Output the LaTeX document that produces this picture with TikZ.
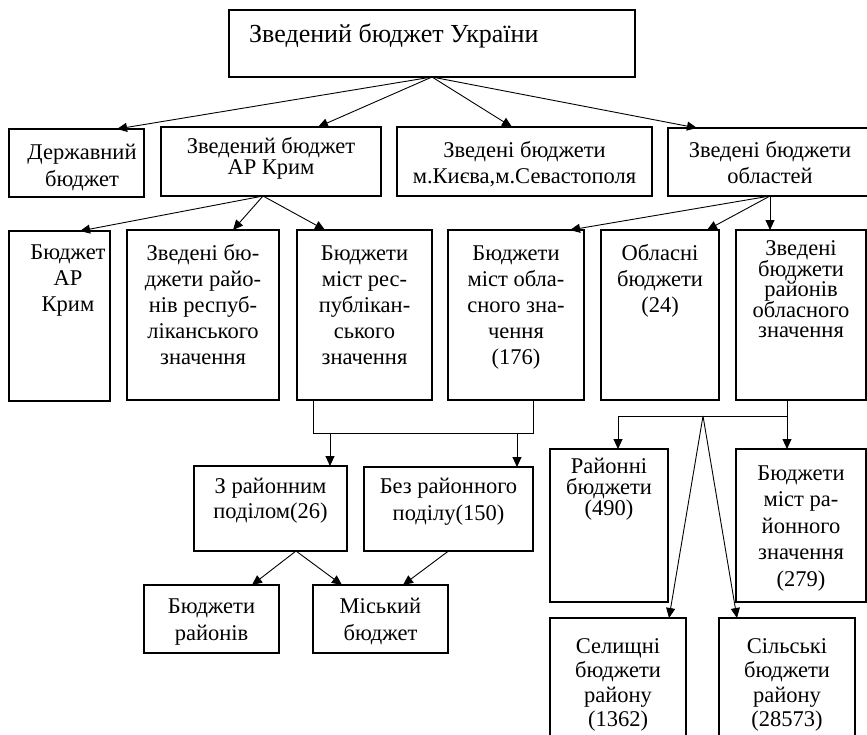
\documentclass[tikz,border=0pt]{standalone}
\usepackage{fontspec}
\setmainfont{Liberation Serif}
\usetikzlibrary{arrows.meta}

% box with corners (x1,y1)-(x2,y2), y growing downwards
\newcommand\bx[5]{\node[box, minimum width={(#4)-(#2)}, minimum height={(#5)-(#3)}] (#1) at (#2,#3) {};}
% centred text block: name, centre x, first baseline, line skip, lines
\newcommand\tx[5]{\node[lbl, font=\fontsize{22.5}{#4}\selectfont] (#1) at (#2,{#3-0.7*#4}) {\strut #5};}

\begin{document}
\begin{tikzpicture}[x=1pt,y=-1pt,
  box/.style={draw, line width=1.1pt, inner sep=0pt, outer sep=0pt, anchor=north west},
  lbl/.style={inner sep=0pt, align=center, anchor=north},
  conn/.style={line width=0.9pt},
  arr/.style={conn, -{Triangle[length=10pt,width=9pt]}}]
\lineskiplimit=-30pt
\useasboundingbox (0,0) rectangle (867,734);
\clip (0,0) rectangle (867,734);

% ---- boxes ----
\bx{top}{229}{10}{635}{77}
\bx{derzh}{9}{129}{144}{197}
\bx{crimea}{161}{127}{381}{196}
\bx{kyiv}{397}{127}{652}{196}
\bx{obl}{668}{128}{872}{196}

\bx{b1}{9}{231}{110}{401}
\bx{b2}{127}{230}{279}{400}
\bx{b3}{297}{230}{432}{400}
\bx{b4}{448}{230}{584}{400}
\bx{b5}{601}{230}{719}{400}
\bx{b6}{736}{230}{866}{400}

\bx{z1}{194}{466}{347}{551}
\bx{z2}{364}{467}{533}{551}
\bx{br}{144}{585}{279}{653}
\bx{mb}{313}{585}{448}{653}

\bx{rb}{550}{449}{668}{602}
\bx{mr}{736}{449}{866}{602}
\bx{sel}{550}{618}{686}{760}
\bx{sil}{719}{618}{855}{760}

% ---- texts ----
\node[inner sep=0pt, anchor=base west, font=\fontsize{26}{30}\selectfont] (t-top) at (249,42) {Зведений бюджет України};
\tx{t-derzh}{82}{159}{27}{Державний\\бюджет}
\tx{t-crimea}{271}{152}{21}{Зведений бюджет\\АР Крим}
\tx{t-kyiv}{524.5}{157}{26}{Зведені бюджети\\м.Києва,м.Севастополя}
\tx{t-obl}{770}{157}{26}{Зведені бюджети\\областей}

\tx{t-b1}{68}{259}{26}{Бюджет\\АР\\Крим}
\tx{t-b2}{203}{260}{26}{Зведені бю-\\джети райо-\\нів респуб-\\ліканського\\значення}
\tx{t-b3}{364.5}{260}{26}{Бюджети\\міст рес-\\публікан-\\ського\\значення}
\tx{t-b4}{516}{260}{26}{Бюджети\\міст обла-\\сного зна-\\чення\\(176)}
\tx{t-b5}{660}{260}{26}{Обласні\\бюджети\\(24)}
\tx{t-b6}{801}{255}{20.5}{Зведені\\бюджети\\районів\\обласного\\значення}

\tx{t-z1}{270.5}{493}{25}{З районним\\поділом(26)}
\tx{t-z2}{448.5}{493}{27}{Без районного\\поділу(150)}
\tx{t-br}{211.5}{613}{27}{Бюджети\\районів}
\tx{t-mb}{380.5}{613}{27}{Міський\\бюджет}

\tx{t-rb}{609}{473}{21}{Районні\\бюджети\\(490)}
\tx{t-mr}{801}{480}{26.5}{Бюджети\\міст ра-\\йонного\\значення\\(279)}
\tx{t-sel}{618}{653}{24.5}{Селищні\\бюджети\\району\\(1362)}
\tx{t-sil}{787}{653}{24.5}{Сільські\\бюджети\\району\\(28573)}

% ---- connectors ----
\draw[arr] (top.south) -- ([xshift=40.5]derzh.north);
\draw[arr] (top.south) -- ([xshift=47]crimea.north);
\draw[arr] (top.south) -- ([xshift=-12.5]kyiv.north);
\draw[arr] (top.south) -- ([xshift=-73]obl.north);

\draw[arr] ([xshift=-8]crimea.south) -- ([xshift=20.5]b1.north);
\draw[arr] ([xshift=-8]crimea.south) -- ([xshift=30]b2.north);
\draw[arr] ([xshift=-8]crimea.south) -- ([xshift=-39.5]b3.north);

\draw[arr] (obl.south) -- ([xshift=54]b4.north);
\draw[arr] (obl.south) -- ([xshift=47]b5.north);
\draw[arr] (obl.south) -- ([xshift=-31]b6.north);

\coordinate (j1) at (313,433);
\coordinate (j2) at (533,433);
\coordinate (j3) at (330,433);
\coordinate (j4) at (517,433);
\draw[conn] ([xshift=-51.5]b3.south) -- (j1) -- (j2) -- ([xshift=17]b4.south);
\draw[arr] (j3) -- (j3 |- z1.north);
\draw[arr] (j4) -- (j4 |- z2.north);

\draw[arr] ([xshift=25.5]z1.south) -- ([xshift=40.5]br.north);
\draw[arr] ([xshift=25.5]z1.south) -- ([xshift=-38.5]mb.north);
\draw[arr] (z2.south) -- ([xshift=22.5]mb.north);

\coordinate (k1) at (787,416);
\coordinate (k2) at (618,416);
\coordinate (k3) at (703,416);
\draw[conn] ([xshift=-14]b6.south) -- (k1) -- (k2);
\draw[arr] (k2) -- (k2 |- rb.north);
\draw[arr] (k1) -- (k1 |- mr.north);
\draw[arr] (k3) -- ([xshift=51]sel.north);
\draw[arr] (k3) -- ([xshift=-50]sil.north);
\end{tikzpicture}
\end{document}
